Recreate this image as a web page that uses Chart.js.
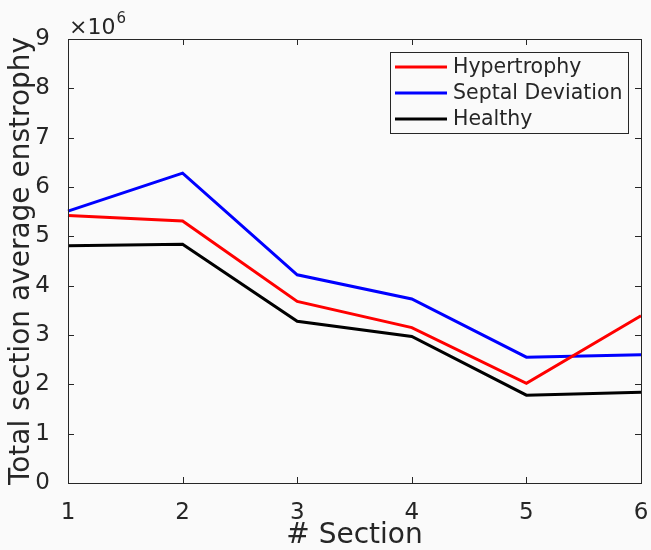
<!DOCTYPE html>
<html>
<head>
    <title>Section enstrophy</title>
    <script src="https://cdn.jsdelivr.net/npm/chart.js@4.4.0/dist/chart.umd.min.js"></script>
    <style>
        body { margin: 0; background: #fafafa; }
    </style>
</head>
<body>
    <canvas id="myChart" width="651" height="550"></canvas>
    <script>
        // values in units of 1e6
        var sections = ["1", "2", "3", "4", "5", "6"];
        var hypertrophy = [5.42, 5.31, 3.68, 3.15, 2.02, 3.39];
        var septalDeviation = [5.51, 6.28, 4.22, 3.73, 2.55, 2.60];
        var healthy = [4.81, 4.84, 3.28, 2.97, 1.78, 1.84];
        var yTicks = [0, 1, 2, 3, 4, 5, 6, 7, 8, 9];

        var axisColor = '#262626';
        var fontFamily = '"DejaVu Sans", sans-serif';

        // box, inward ticks, exponent label and legend like a MATLAB figure
        var matlabLook = {
            id: 'matlabLook',
            afterDatasetsDraw: function (chart) {
                var ctx = chart.ctx;
                var area = chart.chartArea;
                var xs = chart.scales.x, ys = chart.scales.y;
                ctx.save();
                ctx.strokeStyle = axisColor;
                ctx.lineWidth = 1;
                ctx.strokeRect(area.left + 0.5, area.top + 0.5, area.right - area.left, area.bottom - area.top);
                ctx.beginPath();
                sections.forEach(function (s, i) {
                    var px = Math.round(xs.getPixelForValue(i)) + 0.5;
                    ctx.moveTo(px, area.bottom); ctx.lineTo(px, area.bottom - 6);
                    ctx.moveTo(px, area.top); ctx.lineTo(px, area.top + 6);
                });
                yTicks.forEach(function (v) {
                    var py = Math.round(ys.getPixelForValue(v)) + 0.5;
                    ctx.moveTo(area.left, py); ctx.lineTo(area.left + 6, py);
                    ctx.moveTo(area.right, py); ctx.lineTo(area.right - 6, py);
                });
                ctx.stroke();

                // x10^6
                ctx.fillStyle = axisColor;
                ctx.textBaseline = 'alphabetic';
                ctx.textAlign = 'left';
                ctx.font = '22px ' + fontFamily;
                ctx.fillText('\u00d710', 69, 34);
                var w = ctx.measureText('\u00d710').width;
                ctx.font = '15px ' + fontFamily;
                ctx.fillText('6', 69 + w + 1, 23);

                // legend
                var lx = 390, ly = 52, lw = 238, lh = 81;
                ctx.fillStyle = '#fafafa';
                ctx.fillRect(lx, ly, lw, lh);
                ctx.strokeStyle = axisColor;
                ctx.lineWidth = 1;
                ctx.strokeRect(lx + 0.5, ly + 0.5, lw, lh);
                ctx.font = '20.5px ' + fontFamily;
                ctx.textBaseline = 'middle';
                chart.data.datasets.forEach(function (ds, i) {
                    var y = 67 + i * 26;
                    ctx.strokeStyle = ds.borderColor;
                    ctx.lineWidth = 3;
                    ctx.beginPath();
                    ctx.moveTo(395, y); ctx.lineTo(447, y);
                    ctx.stroke();
                    ctx.fillStyle = axisColor;
                    ctx.fillText(ds.label, 453, y + 1);
                });
                ctx.restore();
            }
        };

        var ctx = document.getElementById('myChart').getContext('2d');
        var myChart = new Chart(ctx, {
            type: 'line',
            data: {
                labels: sections,
                datasets: [
                    { label: 'Hypertrophy', data: hypertrophy, borderColor: '#ff0000' },
                    { label: 'Septal Deviation', data: septalDeviation, borderColor: '#0000ff' },
                    { label: 'Healthy', data: healthy, borderColor: '#000000' }
                ]
            },
            options: {
                responsive: false,
                animation: false,
                layout: { padding: { left: 0, right: 10, top: 39, bottom: 0 } },
                elements: {
                    line: { borderWidth: 3, tension: 0, borderJoinStyle: 'miter' },
                    point: { radius: 0 }
                },
                plugins: {
                    legend: { display: false },
                    tooltip: { enabled: false }
                },
                scales: {
                    x: {
                        offset: false,
                        grid: { display: false, offset: false },
                        border: { display: false },
                        ticks: { color: axisColor, font: { family: fontFamily, size: 23 }, padding: 8, maxRotation: 0 },
                        title: { display: true, text: '# Section', color: axisColor, font: { family: fontFamily, size: 28, lineHeight: 1 }, padding: { top: 0, bottom: 0 } },
                        afterFit: function (scale) {
                            scale.height = 67;
                            scale.paddingLeft = 0;
                            scale.paddingRight = 0;
                        }
                    },
                    y: {
                        min: 0,
                        max: 9,
                        grid: { display: false },
                        border: { display: false },
                        ticks: { stepSize: 1, color: axisColor, font: { family: fontFamily, size: 23 }, padding: 10 },
                        title: { display: true, text: 'Total section average enstrophy', color: axisColor, font: { family: fontFamily, size: 28, lineHeight: 1 }, padding: { top: 8, bottom: 0 } },
                        afterFit: function (scale) {
                            scale.width = 68;
                            scale.paddingTop = 0;
                            scale.paddingBottom = 0;
                        }
                    }
                }
            },
            plugins: [matlabLook]
        });
    </script>
</body>
</html>
